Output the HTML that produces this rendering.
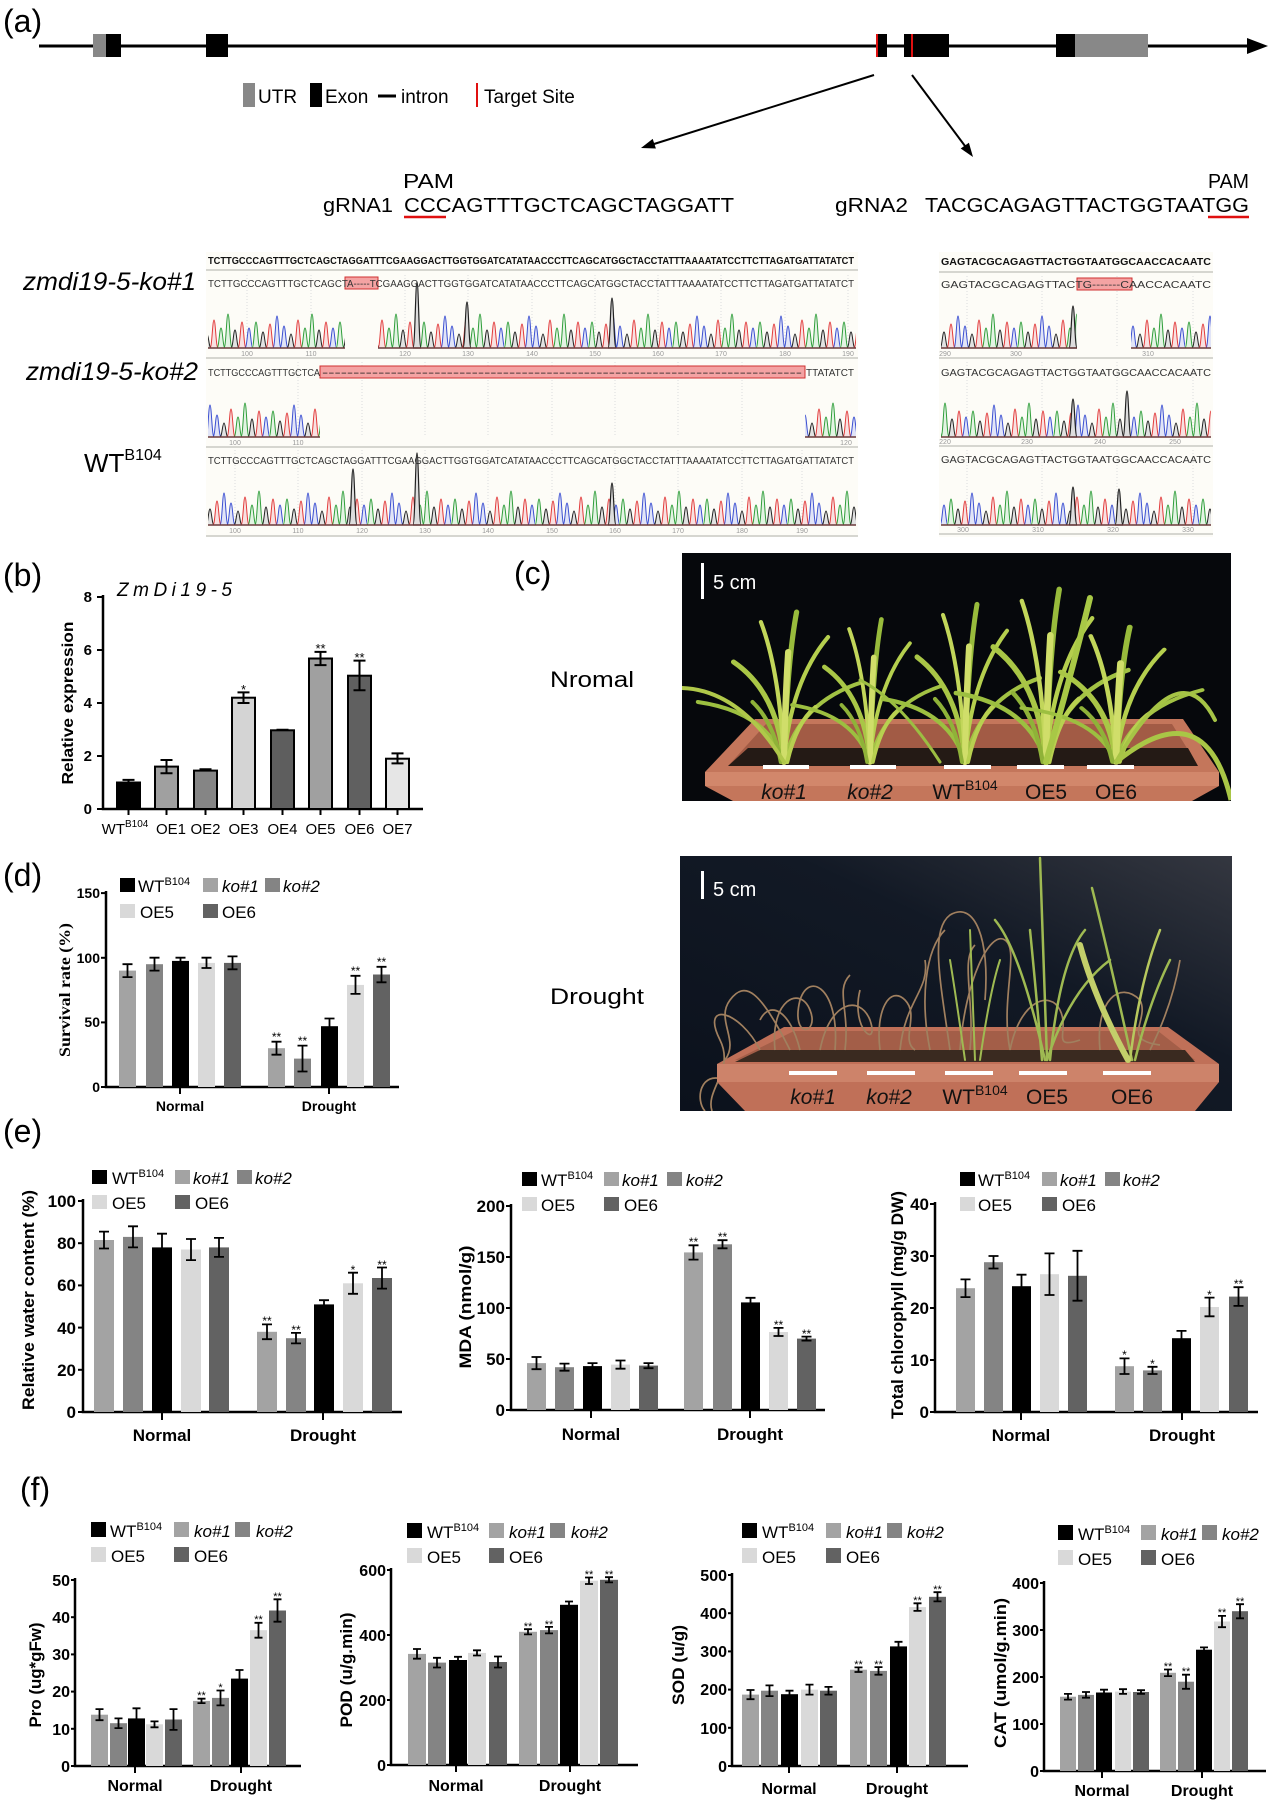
<!DOCTYPE html>
<html><head><meta charset="utf-8"><style>
html,body{margin:0;padding:0;background:#fff;}
svg{display:block;}
text{font-family:"Liberation Sans",Arial,sans-serif;}
</style></head><body>
<svg width="1269" height="1801" viewBox="0 0 1269 1801" xmlns="http://www.w3.org/2000/svg" xmlns:xlink="http://www.w3.org/1999/xlink">
<defs>
<pattern id="pk" width="84" height="60" patternUnits="userSpaceOnUse">
<g stroke-width="1">
<path d="M0,58 C2,58 2.5,32 4,32 C5.5,32 6,58 8,58Z" fill="#e3f3e3" stroke="#2f9e3a"/>
<path d="M7,58 C9,58 9.5,42 11,42 C12.5,42 13,58 15,58Z" fill="#e2e2e2" stroke="#222"/>
<path d="M14,58 C16,58 16.5,34 18,34 C19.5,34 20,58 22,58Z" fill="#f8e1e1" stroke="#e23b3b"/>
<path d="M21,58 C23,58 23.5,26 25,26 C26.5,26 27,58 29,58Z" fill="#e1e4f7" stroke="#3b4fd1"/>
<path d="M28,58 C30,58 30.5,36 32,36 C33.5,36 34,58 36,58Z" fill="#e1e4f7" stroke="#3b4fd1"/>
<path d="M35,58 C37,58 37.5,44 39,44 C40.5,44 41,58 43,58Z" fill="#e2e2e2" stroke="#222"/>
<path d="M42,58 C44,58 44.5,30 46,30 C47.5,30 48,58 50,58Z" fill="#f8e1e1" stroke="#e23b3b"/>
<path d="M49,58 C51,58 51.5,38 53,38 C54.5,38 55,58 57,58Z" fill="#e3f3e3" stroke="#2f9e3a"/>
<path d="M56,58 C58,58 58.5,24 60,24 C61.5,24 62,58 64,58Z" fill="#e3f3e3" stroke="#2f9e3a"/>
<path d="M63,58 C65,58 65.5,40 67,40 C68.5,40 69,58 71,58Z" fill="#e2e2e2" stroke="#222"/>
<path d="M70,58 C72,58 72.5,32 74,32 C75.5,32 76,58 78,58Z" fill="#f8e1e1" stroke="#e23b3b"/>
<path d="M77,58 C79,58 79.5,38 81,38 C82.5,38 83,58 85,58Z" fill="#e1e4f7" stroke="#3b4fd1"/>
</g>
</pattern>
<g id="pl" fill="none" stroke-linecap="round">
<path d="M0,0 Q-6,-70 -48,-100" stroke="#a9c646" stroke-width="5"/>
<path d="M0,0 Q-4,-90 -22,-140" stroke="#c2d65a" stroke-width="4"/>
<path d="M0,0 Q3,-100 12,-150" stroke="#98bb3c" stroke-width="5"/>
<path d="M0,0 Q6,-80 42,-125" stroke="#b5cf4e" stroke-width="4"/>
<path d="M0,0 Q14,-60 75,-80" stroke="#a2c244" stroke-width="4"/>
<path d="M0,0 Q-16,-50 -82,-60" stroke="#9cbf40" stroke-width="4"/>
<path d="M0,0 Q1,-60 4,-110" stroke="#d0de6a" stroke-width="6"/>
<path d="M-3,0 Q-10,-40 -30,-60" stroke="#8fb238" stroke-width="4"/>
<path d="M3,0 Q12,-40 30,-55" stroke="#b8d050" stroke-width="4"/>
</g>
<clipPath id="c1"><rect x="682" y="553" width="549" height="248"/></clipPath>
<clipPath id="c2"><rect x="680" y="856" width="552" height="255"/></clipPath>
<linearGradient id="g2" x1="0" y1="1" x2="1" y2="0">
<stop offset="0" stop-color="#0b111c"/><stop offset="0.6" stop-color="#121925"/><stop offset="1" stop-color="#343740"/>
</linearGradient>
</defs>

<!-- ============ (a) ============ -->
<text x="3" y="32" font-size="32">(a)</text>
<line x1="39" y1="46" x2="1252" y2="46" stroke="#000" stroke-width="3"/>
<polygon points="1247,38 1268,46 1247,54" fill="#000"/>
<rect x="93" y="34" width="13" height="23" fill="#888"/>
<rect x="106" y="34" width="15" height="23" fill="#000"/>
<rect x="206" y="34" width="22" height="23" fill="#000"/>
<rect x="876" y="34" width="11" height="23" fill="#000"/>
<line x1="877" y1="34" x2="877" y2="57" stroke="#e01010" stroke-width="2"/>
<rect x="904" y="34" width="45" height="23" fill="#000"/>
<line x1="912" y1="34" x2="912" y2="57" stroke="#e01010" stroke-width="2"/>
<rect x="1056" y="34" width="19" height="23" fill="#000"/>
<rect x="1075" y="34" width="73" height="23" fill="#888"/>

<rect x="243" y="83" width="12" height="24" fill="#888"/>
<text x="258" y="103" font-size="19">UTR</text>
<rect x="310" y="83" width="12" height="24" fill="#000"/>
<text x="325" y="103" font-size="19">Exon</text>
<line x1="378" y1="96" x2="396" y2="96" stroke="#000" stroke-width="3"/>
<text x="401" y="103" font-size="19">intron</text>
<line x1="477" y1="83" x2="477" y2="107" stroke="#e01010" stroke-width="2"/>
<text x="484" y="103" font-size="19">Target Site</text>

<line x1="874" y1="75" x2="654" y2="144" stroke="#000" stroke-width="2"/>
<polygon points="641,148 655.9,148.5 652.7,138.9" fill="#000"/>
<line x1="912" y1="75" x2="965" y2="146" stroke="#000" stroke-width="2"/>
<polygon points="973,157 968.9,142.7 960.7,148.5" fill="#000"/>

<text x="403" y="188" font-size="20" textLength="51" lengthAdjust="spacingAndGlyphs">PAM</text>
<text x="323" y="212" font-size="20" textLength="70" lengthAdjust="spacingAndGlyphs">gRNA1</text>
<text x="404" y="212" font-size="20" textLength="330" lengthAdjust="spacingAndGlyphs">CCCAGTTTGCTCAGCTAGGATT</text>
<line x1="404" y1="217" x2="446" y2="217" stroke="#e01010" stroke-width="2.5"/>
<text x="1208" y="188" font-size="20" textLength="41" lengthAdjust="spacingAndGlyphs">PAM</text>
<text x="835" y="212" font-size="20" textLength="73" lengthAdjust="spacingAndGlyphs">gRNA2</text>
<text x="925" y="212" font-size="20" textLength="324" lengthAdjust="spacingAndGlyphs">TACGCAGAGTTACTGGTAATGG</text>
<line x1="1208" y1="217" x2="1249" y2="217" stroke="#e01010" stroke-width="2.5"/>

<!-- chromatogram left -->
<rect x="206" y="252" width="652" height="285" fill="#fdfcf7"/>
<rect x="939" y="252" width="274" height="285" fill="#fdfcf7"/>
<g stroke="#d6d6d0" stroke-width="2">
<line x1="206" y1="270" x2="858" y2="270"/><line x1="206" y1="358" x2="858" y2="358"/><line x1="206" y1="447" x2="858" y2="447"/><line x1="206" y1="536" x2="858" y2="536"/>
<line x1="939" y1="272" x2="1213" y2="272"/><line x1="939" y1="358" x2="1213" y2="358"/><line x1="939" y1="446" x2="1213" y2="446"/><line x1="939" y1="534" x2="1213" y2="534"/>
</g>
<g stroke="#dcdcdc" stroke-width="1" stroke-dasharray="1,2">
<line x1="247" y1="275" x2="247" y2="348"/><line x1="311" y1="275" x2="311" y2="348"/><line x1="405" y1="275" x2="405" y2="348"/><line x1="468" y1="275" x2="468" y2="348"/><line x1="532" y1="275" x2="532" y2="348"/><line x1="595" y1="275" x2="595" y2="348"/><line x1="658" y1="275" x2="658" y2="348"/><line x1="721" y1="275" x2="721" y2="348"/><line x1="785" y1="275" x2="785" y2="348"/><line x1="848" y1="275" x2="848" y2="348"/>
<line x1="298" y1="362" x2="298" y2="437"/><line x1="362" y1="362" x2="362" y2="437"/><line x1="425" y1="362" x2="425" y2="437"/><line x1="488" y1="362" x2="488" y2="437"/><line x1="552" y1="362" x2="552" y2="437"/><line x1="615" y1="362" x2="615" y2="437"/><line x1="678" y1="362" x2="678" y2="437"/><line x1="742" y1="362" x2="742" y2="437"/>
<line x1="235" y1="450" x2="235" y2="525"/><line x1="298" y1="450" x2="298" y2="525"/><line x1="362" y1="450" x2="362" y2="525"/><line x1="425" y1="450" x2="425" y2="525"/><line x1="488" y1="450" x2="488" y2="525"/><line x1="552" y1="450" x2="552" y2="525"/><line x1="615" y1="450" x2="615" y2="525"/><line x1="678" y1="450" x2="678" y2="525"/><line x1="742" y1="450" x2="742" y2="525"/><line x1="802" y1="450" x2="802" y2="525"/>
<line x1="967" y1="276" x2="967" y2="348"/><line x1="1042" y1="276" x2="1042" y2="348"/><line x1="1117" y1="276" x2="1117" y2="348"/><line x1="1193" y1="276" x2="1193" y2="348"/>
<line x1="967" y1="362" x2="967" y2="437"/><line x1="1042" y1="362" x2="1042" y2="437"/><line x1="1117" y1="362" x2="1117" y2="437"/><line x1="1193" y1="362" x2="1193" y2="437"/>
<line x1="967" y1="450" x2="967" y2="525"/><line x1="1042" y1="450" x2="1042" y2="525"/><line x1="1117" y1="450" x2="1117" y2="525"/><line x1="1193" y1="450" x2="1193" y2="525"/>
</g>

<g transform="translate(0,290)"><rect x="208" y="0" width="137" height="58" fill="url(#pk)"/><rect x="378" y="0" width="478" height="58" fill="url(#pk)"/></g>
<g transform="translate(17,379)"><rect x="191" y="0" width="112" height="58" fill="url(#pk)"/><rect x="788" y="0" width="51" height="58" fill="url(#pk)"/></g>
<g transform="translate(31,467)"><rect x="177" y="0" width="648" height="58" fill="url(#pk)"/></g>
<g transform="translate(9,290)"><rect x="932" y="0" width="136" height="58" fill="url(#pk)"/><rect x="1122" y="0" width="80" height="58" fill="url(#pk)"/></g>
<g transform="translate(45,379)"><rect x="896" y="0" width="270" height="58" fill="url(#pk)"/></g>
<g transform="translate(23,467)"><rect x="918" y="0" width="270" height="58" fill="url(#pk)"/></g>

<g fill="#ddd" stroke="#222" stroke-width="1.2">
<path d="M413,348 C415,348 415.5,282 417,282 C418.5,282 419,348 421,348Z"/>
<path d="M608,348 C610,348 610.5,298 612,298 C613.5,298 614,348 616,348Z"/>
<path d="M463,348 C465,348 465.5,302 467,302 C468.5,302 469,348 471,348Z"/>
<path d="M413,525 C415,525 415.5,453 417,453 C418.5,453 419,525 421,525Z"/>
<path d="M349,525 C351,525 351.5,469 353,469 C354.5,469 355,525 357,525Z"/>
<path d="M608,525 C610,525 610.5,483 612,483 C613.5,483 614,525 616,525Z"/>
<path d="M1069,348 C1071,348 1071.5,306 1073,306 C1074.5,306 1075,348 1077,348Z"/>
<path d="M1069,437 C1071,437 1071.5,399 1073,399 C1074.5,399 1075,437 1077,437Z"/>
<path d="M1123,437 C1125,437 1125.5,391 1127,391 C1128.5,391 1129,437 1131,437Z"/>
<path d="M1069,525 C1071,525 1071.5,487 1073,487 C1074.5,487 1075,525 1077,525Z"/>
<path d="M1115,525 C1117,525 1117.5,489 1119,489 C1120.5,489 1121,525 1123,525Z"/>
</g>
<g stroke="#6a3a3a" stroke-width="1.5">
<line x1="208" y1="348" x2="345" y2="348"/><line x1="378" y1="348" x2="856" y2="348"/>
<line x1="208" y1="437" x2="320" y2="437"/><line x1="805" y1="437" x2="856" y2="437"/>
<line x1="208" y1="525" x2="856" y2="525"/>
<line x1="941" y1="348" x2="1077" y2="348"/><line x1="1131" y1="348" x2="1211" y2="348"/>
<line x1="941" y1="437" x2="1211" y2="437"/>
<line x1="941" y1="525" x2="1211" y2="525"/>
</g>
<g font-size="7" fill="#999" text-anchor="middle">
<text x="247" y="356">100</text><text x="311" y="356">110</text><text x="405" y="356">120</text><text x="468" y="356">130</text><text x="532" y="356">140</text><text x="595" y="356">150</text><text x="658" y="356">160</text><text x="721" y="356">170</text><text x="785" y="356">180</text><text x="848" y="356">190</text>
<text x="235" y="445">100</text><text x="298" y="445">110</text><text x="846" y="445">120</text>
<text x="235" y="533">100</text><text x="298" y="533">110</text><text x="362" y="533">120</text><text x="425" y="533">130</text><text x="488" y="533">140</text><text x="552" y="533">150</text><text x="615" y="533">160</text><text x="678" y="533">170</text><text x="742" y="533">180</text><text x="802" y="533">190</text>
<text x="945" y="356">290</text><text x="1016" y="356">300</text><text x="1148" y="356">310</text>
<text x="945" y="444">220</text><text x="1027" y="444">230</text><text x="1100" y="444">240</text><text x="1175" y="444">250</text>
<text x="963" y="532">300</text><text x="1038" y="532">310</text><text x="1113" y="532">320</text><text x="1188" y="532">330</text>
</g>

<rect x="345" y="277" width="33" height="12" fill="#f4a3a3" stroke="#d03030" stroke-width="1"/>
<rect x="320" y="366" width="485" height="12" fill="#f4a3a3" stroke="#d03030" stroke-width="1"/>
<rect x="1077" y="278" width="55" height="12" fill="#f4a3a3" stroke="#d03030" stroke-width="1"/>

<g font-size="10" fill="#333">
<text x="208" y="264" font-weight="bold" fill="#111" textLength="646" lengthAdjust="spacingAndGlyphs">TCTTGCCCAGTTTGCTCAGCTAGGATTTCGAAGGACTTGGTGGATCATATAACCCTTCAGCATGGCTACCTATTTAAAATATCCTTCTTAGATGATTATATCT</text>
<text x="208" y="287" textLength="646" lengthAdjust="spacingAndGlyphs">TCTTGCCCAGTTTGCTCAGCTA-----TCGAAGGACTTGGTGGATCATATAACCCTTCAGCATGGCTACCTATTTAAAATATCCTTCTTAGATGATTATATCT</text>
<text x="208" y="376" textLength="112" lengthAdjust="spacingAndGlyphs">TCTTGCCCAGTTTGCTCA</text>
<text x="322" y="376" textLength="480" lengthAdjust="spacingAndGlyphs" fill="#222">-----------------------------------------------------------------------------</text>
<text x="806" y="376" textLength="48" lengthAdjust="spacingAndGlyphs">TTATATCT</text>
<text x="208" y="464" textLength="646" lengthAdjust="spacingAndGlyphs">TCTTGCCCAGTTTGCTCAGCTAGGATTTCGAAGGACTTGGTGGATCATATAACCCTTCAGCATGGCTACCTATTTAAAATATCCTTCTTAGATGATTATATCT</text>
<text x="941" y="265" font-weight="bold" fill="#111" textLength="270" lengthAdjust="spacingAndGlyphs">GAGTACGCAGAGTTACTGGTAATGGCAACCACAATC</text>
<text x="941" y="288" textLength="270" lengthAdjust="spacingAndGlyphs">GAGTACGCAGAGTTACTG-------CAACCACAATC</text>
<text x="941" y="376" textLength="270" lengthAdjust="spacingAndGlyphs">GAGTACGCAGAGTTACTGGTAATGGCAACCACAATC</text>
<text x="941" y="463" textLength="270" lengthAdjust="spacingAndGlyphs">GAGTACGCAGAGTTACTGGTAATGGCAACCACAATC</text>
</g>

<text x="23" y="290" font-size="25" font-style="italic" textLength="173" lengthAdjust="spacingAndGlyphs">zmdi19-5-ko#1</text>
<text x="26" y="380" font-size="25" font-style="italic" textLength="172" lengthAdjust="spacingAndGlyphs">zmdi19-5-ko#2</text>
<text x="84" y="472" font-size="26">WT<tspan font-size="16" dy="-12">B104</tspan></text>

<!-- ============ (b) ============ -->
<text x="3" y="586" font-size="32">(b)</text>
<text x="117" y="596" font-size="19" font-style="italic" textLength="115" lengthAdjust="spacing">ZmDi19-5</text>
<g fill="none" stroke="#000" stroke-width="2.5">
<path d="M103,595 V809 H423"/>
</g>
<g stroke="#000" stroke-width="2">
<line x1="97" y1="597" x2="103" y2="597"/><line x1="97" y1="650" x2="103" y2="650"/><line x1="97" y1="703" x2="103" y2="703"/><line x1="97" y1="756" x2="103" y2="756"/><line x1="97" y1="809" x2="103" y2="809"/>
<line x1="128.5" y1="809" x2="128.5" y2="815"/><line x1="166.5" y1="809" x2="166.5" y2="815"/><line x1="205.5" y1="809" x2="205.5" y2="815"/><line x1="243.5" y1="809" x2="243.5" y2="815"/><line x1="282.5" y1="809" x2="282.5" y2="815"/><line x1="320.5" y1="809" x2="320.5" y2="815"/><line x1="359.5" y1="809" x2="359.5" y2="815"/><line x1="397.5" y1="809" x2="397.5" y2="815"/>
</g>
<g font-size="15" font-weight="bold" text-anchor="end">
<text x="92" y="602">8</text><text x="92" y="655">6</text><text x="92" y="708">4</text><text x="92" y="761">2</text><text x="92" y="814">0</text>
</g>
<g stroke="#000" stroke-width="2">
<rect x="117" y="782.5" width="23" height="26.5" fill="#000"/>
<rect x="155" y="766.6" width="23" height="42.4" fill="#a0a0a0"/>
<rect x="194" y="770.6" width="23" height="38.4" fill="#858585"/>
<rect x="232" y="697.7" width="23" height="111.3" fill="#d4d4d4"/>
<rect x="271" y="730.3" width="23" height="78.7" fill="#5e5e5e"/>
<rect x="309" y="658.5" width="23" height="150.5" fill="#a0a0a0"/>
<rect x="348" y="675.7" width="23" height="133.3" fill="#606060"/>
<rect x="386" y="758.7" width="23" height="50.3" fill="#e6e6e6"/>
</g>
<path d="M128.5 785.2V779.9M122.5 779.9h12M122.5 785.2h12M166.5 773.2V760M160.5 760h12M160.5 773.2h12M205.5 771.4V769.3M199.5 769.3h12M243.5 703V692.4M237.5 692.4h12M237.5 703h12M282.5 731V729.7M276.5 729.7h12M320.5 665.1V651.9M314.5 651.9h12M314.5 665.1h12M359.5 690.3V660.6M353.5 660.6h12M353.5 690.3h12M397.5 763.4V753.4M391.5 753.4h12M391.5 763.4h12" stroke="#000" stroke-width="2" fill="none"/>
<g font-size="13" text-anchor="middle">
<text x="243.5" y="694">*</text><text x="320.5" y="653">**</text><text x="359.5" y="662">**</text>
</g>
<g font-size="15" text-anchor="middle">
<text x="125" y="834">WT<tspan font-size="10" dy="-7">B104</tspan></text>
<text x="167" y="834" dx="4">OE1</text><text x="205.5" y="834">OE2</text><text x="243.5" y="834">OE3</text><text x="282.5" y="834">OE4</text><text x="320.5" y="834">OE5</text><text x="359.5" y="834">OE6</text><text x="397.5" y="834">OE7</text>
</g>
<text transform="translate(73,703) rotate(-90)" text-anchor="middle" font-size="16" font-weight="bold" textLength="163" lengthAdjust="spacingAndGlyphs">Relative expression</text>

<!-- ============ (c) photos ============ -->
<text x="514" y="584" font-size="32">(c)</text>
<text x="550" y="687" font-size="22" textLength="84" lengthAdjust="spacingAndGlyphs">Nromal</text>
<text x="550" y="1004" font-size="22" textLength="94" lengthAdjust="spacingAndGlyphs">Drought</text>

<g clip-path="url(#c1)">
<rect x="682" y="553" width="549" height="248" fill="#06080c"/>
<polygon points="755,719 1183,719 1219,772 1219,786 1192,801 733,801 705,786 705,772" fill="#c4765b"/>
<polygon points="766,724 1172,724 1198,766 728,766" fill="#a25b45"/>
<polygon points="748,748 1188,748 1198,766 728,766" fill="#241a15"/>
<use href="#pl" xlink:href="#pl" transform="translate(784,762) scale(1.05,1.0)"/>
<use href="#pl" xlink:href="#pl" transform="translate(870,762) scale(0.95,0.95)"/>
<use href="#pl" xlink:href="#pl" transform="translate(965,762) scale(1.0,1.05)"/>
<use href="#pl" xlink:href="#pl" transform="translate(1046,762) scale(1.1,1.15)"/>
<use href="#pl" xlink:href="#pl" transform="translate(1116,762) scale(1.15,0.9)"/>
<g fill="none" stroke-linecap="round">
<path d="M1046,762 Q1070,680 1090,598" stroke="#a8c846" stroke-width="6"/>
<path d="M784,762 Q740,690 682,688" stroke="#b0c84a" stroke-width="4"/>
<path d="M1116,762 Q1180,650 1215,720" stroke="#a6c446" stroke-width="4"/>
<path d="M940,762 Q900,700 860,680" stroke="#9cbe42" stroke-width="3"/>
</g>
<rect x="705" y="772" width="514" height="14" fill="#d2876b"/>
<path d="M1116,762 Q1205,690 1231,800" fill="none" stroke="#a9c646" stroke-width="5"/>
<g fill="#fff">
<rect x="763" y="765" width="46" height="4"/><rect x="850" y="765" width="46" height="4"/><rect x="944" y="765" width="47" height="4"/><rect x="1017" y="765" width="47" height="4"/><rect x="1087" y="765" width="47" height="4"/>
<rect x="701" y="563" width="3" height="36"/>
</g>
<text x="713" y="589" font-size="20" fill="#fff">5 cm</text>
<g font-size="21" text-anchor="middle" fill="#111">
<text x="784" y="799" font-style="italic">ko#1</text><text x="870" y="799" font-style="italic">ko#2</text>
<text x="965" y="799">WT<tspan font-size="14" dy="-9">B104</tspan></text>
<text x="1046" y="799">OE5</text><text x="1116" y="799">OE6</text>
</g>
</g>

<g clip-path="url(#c2)">
<rect x="680" y="856" width="552" height="255" fill="url(#g2)"/>
<polygon points="784,1027 1168,1027 1219,1064 1219,1082 1195,1111 745,1111 717,1082 717,1064" fill="#c07058"/>
<polygon points="794,1031 1158,1031 1195,1060 735,1060" fill="#a35e48"/>
<polygon points="760,1050 1185,1050 1195,1062 735,1062" fill="#3a2a20"/>
<g fill="none" stroke="#a1805f" stroke-width="1.7">
<path d="M760,1050 C740,1010 700,1000 720,1040 C735,1070 705,1090 712,1111"/>
<path d="M775,1050 C770,1000 800,985 810,1010 C820,1035 790,1040 800,1000 C810,970 840,990 835,1050"/>
<path d="M790,1050 C760,990 745,980 730,1000 C715,1020 740,1040 725,1060"/>
<path d="M820,1050 C830,1000 860,995 870,1020 C880,1050 850,1030 860,990"/>
<path d="M800,1050 C790,1010 770,1000 760,1020"/>
<path d="M880,1050 C875,1010 890,985 905,1000 C920,1015 900,1040 915,1050"/>
<path d="M900,1050 C905,1000 930,990 925,960"/>
<path d="M950,1050 C940,980 930,930 950,915 C975,900 990,940 985,1000"/>
<path d="M960,1050 C965,980 990,930 1005,940 C1020,950 1000,1000 1010,1050"/>
<path d="M930,1050 C920,1000 925,950 945,930"/>
<path d="M970,1050 C975,1000 960,960 975,945"/>
<path d="M1010,1050 C1020,1000 1050,990 1060,1010 C1070,1030 1050,1050 1080,1040"/>
<path d="M1100,1050 C1095,1000 1120,980 1140,1000 C1150,1020 1120,1040 1160,1045"/>
<path d="M1150,1050 C1165,1020 1175,990 1180,960"/>
<path d="M725,1080 C700,1070 695,1100 705,1111"/>
<path d="M845,1050 C850,1010 835,990 850,975"/>
</g>
<g fill="none" stroke-linecap="round" stroke="#9fba52" stroke-width="2.5">
<path d="M1047,1060 L1040,858"/>
<path d="M1045,1060 Q1020,950 995,920"/>
<path d="M1050,1060 Q1060,960 1085,930"/>
<path d="M1047,1060 Q1070,990 1110,960"/>
<path d="M1042,1060 Q1035,980 1030,930"/>
<path d="M1132,1060 Q1110,960 1092,888"/>
<path d="M1130,1060 Q1140,980 1160,930" stroke="#b7c85e"/>
<path d="M1135,1060 Q1150,1000 1170,960"/>
<path d="M1128,1060 Q1095,1000 1080,945" stroke="#c3cf6a" stroke-width="6"/>
<path d="M975,1060 L970,930" stroke-width="2"/>
<path d="M980,1060 Q990,990 1000,960" stroke-width="2"/>
<path d="M965,1060 Q955,990 950,960" stroke-width="2"/>
</g>
<rect x="717" y="1064" width="502" height="18" fill="#cd836a"/>
<g fill="#fff">
<rect x="789" y="1071" width="48" height="4"/><rect x="867" y="1071" width="48" height="4"/><rect x="945" y="1071" width="48" height="4"/><rect x="1019" y="1071" width="48" height="4"/><rect x="1103" y="1071" width="48" height="4"/>
<rect x="701" y="871" width="3" height="28"/>
</g>
<text x="713" y="896" font-size="20" fill="#fff">5 cm</text>
<g font-size="21" text-anchor="middle" fill="#111">
<text x="813" y="1104" font-style="italic">ko#1</text><text x="889" y="1104" font-style="italic">ko#2</text>
<text x="975" y="1104">WT<tspan font-size="14" dy="-9">B104</tspan></text>
<text x="1047" y="1104">OE5</text><text x="1132" y="1104">OE6</text>
</g>
</g>

<!-- ============ (d) ============ -->
<text x="3" y="886" font-size="32">(d)</text>
<g font-size="17">
<rect x="120" y="878" width="15" height="14" fill="#000"/><text x="138" y="892">WT<tspan font-size="11" dy="-7">B104</tspan></text>
<rect x="203" y="878" width="15" height="14" fill="#a3a3a3"/><text x="222" y="892" font-style="italic">ko#1</text>
<rect x="265" y="878" width="15" height="14" fill="#848484"/><text x="283" y="892" font-style="italic">ko#2</text>
<rect x="120" y="904" width="15" height="14" fill="#d9d9d9"/><text x="140" y="918">OE5</text>
<rect x="203" y="904" width="15" height="14" fill="#626262"/><text x="222" y="918">OE6</text>
</g>
<path d="M106,891 V1087 H399" fill="none" stroke="#000" stroke-width="2.5"/>
<g stroke="#000" stroke-width="2">
<line x1="101" y1="1087" x2="106" y2="1087"/><line x1="101" y1="1022.4" x2="106" y2="1022.4"/><line x1="101" y1="957.8" x2="106" y2="957.8"/><line x1="101" y1="893.1" x2="106" y2="893.1"/>
<line x1="180" y1="1087" x2="180" y2="1094"/><line x1="329" y1="1087" x2="329" y2="1094"/>
</g>
<g font-size="14" font-weight="bold" text-anchor="end">
<text x="100" y="1092">0</text><text x="100" y="1027">50</text><text x="100" y="963">100</text><text x="100" y="898">150</text>
</g>
<rect x="119" y="970.6" width="17" height="116.4" fill="#a3a3a3"/>
<rect x="146" y="964.2" width="17" height="122.8" fill="#848484"/>
<rect x="172" y="960.9" width="17" height="126.1" fill="#000"/>
<rect x="198" y="962.9" width="17" height="124.1" fill="#d9d9d9"/>
<rect x="224" y="962.9" width="17" height="124.1" fill="#626262"/>
<rect x="268" y="1048.2" width="17" height="38.8" fill="#a3a3a3"/>
<rect x="294" y="1058.6" width="17" height="28.4" fill="#848484"/>
<rect x="321" y="1026.2" width="17" height="60.8" fill="#000"/>
<rect x="347" y="984.9" width="17" height="102.1" fill="#d9d9d9"/>
<rect x="373" y="974.5" width="17" height="112.5" fill="#626262"/>
<path d="M127.5 977.1V964.2M122.5 964.2h10M122.5 977.1h10M154.5 970.6V957.7M149.5 957.7h10M149.5 970.6h10M180.5 964.2V957.7M175.5 957.7h10M175.5 964.2h10M206.5 968V957.7M201.5 957.7h10M201.5 968h10M232.5 969.3V956.4M227.5 956.4h10M227.5 969.3h10M276.5 1054.7V1041.7M271.5 1041.7h10M271.5 1054.7h10M302.5 1071.5V1045.6M297.5 1045.6h10M297.5 1071.5h10M329.5 1034V1018.5M324.5 1018.5h10M324.5 1034h10M355.5 993.9V975.8M350.5 975.8h10M350.5 993.9h10M381.5 982.3V966.8M376.5 966.8h10M376.5 982.3h10" stroke="#000" stroke-width="1.8" fill="none"/>
<g font-size="12" text-anchor="middle">
<text x="276.5" y="1041">**</text><text x="302.5" y="1045">**</text><text x="355.5" y="975">**</text><text x="381.5" y="966">**</text>
</g>
<g font-size="14" font-weight="bold" text-anchor="middle">
<text x="180" y="1111">Normal</text><text x="329" y="1111">Drought</text>
</g>
<text transform="translate(70,990) rotate(-90)" text-anchor="middle" font-size="16" font-weight="bold" style="font-family:'Liberation Serif',serif" textLength="134" lengthAdjust="spacingAndGlyphs">Survival rate (%)</text>

<!-- ============ (e) ============ -->
<text x="3" y="1142" font-size="32">(e)</text>

<!-- e1 -->
<g font-size="17">
<rect x="92" y="1170" width="15" height="14" fill="#000"/><text x="112" y="1184">WT<tspan font-size="11" dy="-7">B104</tspan></text>
<rect x="175" y="1170" width="15" height="14" fill="#a3a3a3"/><text x="193" y="1184" font-style="italic">ko#1</text>
<rect x="237" y="1170" width="15" height="14" fill="#848484"/><text x="255" y="1184" font-style="italic">ko#2</text>
<rect x="92" y="1195" width="15" height="14" fill="#d9d9d9"/><text x="112" y="1209">OE5</text>
<rect x="175" y="1195" width="15" height="14" fill="#626262"/><text x="195" y="1209">OE6</text>
</g>
<path d="M83,1199 V1412 H402" fill="none" stroke="#000" stroke-width="2.5"/>
<g stroke="#000" stroke-width="2">
<line x1="78" y1="1412" x2="83" y2="1412"/><line x1="78" y1="1369.8" x2="83" y2="1369.8"/><line x1="78" y1="1327.6" x2="83" y2="1327.6"/><line x1="78" y1="1285.4" x2="83" y2="1285.4"/><line x1="78" y1="1243.2" x2="83" y2="1243.2"/><line x1="78" y1="1201" x2="83" y2="1201"/>
<line x1="162" y1="1412" x2="162" y2="1420"/><line x1="323" y1="1412" x2="323" y2="1420"/>
</g>
<g font-size="17" font-weight="bold" text-anchor="end">
<text x="76" y="1418">0</text><text x="76" y="1376">20</text><text x="76" y="1334">40</text><text x="76" y="1291">60</text><text x="76" y="1249">80</text><text x="76" y="1207">100</text>
</g>
<rect x="94" y="1240" width="20" height="172" fill="#a3a3a3"/>
<rect x="123" y="1236.9" width="20" height="175.1" fill="#848484"/>
<rect x="152" y="1247.4" width="20" height="164.6" fill="#000"/>
<rect x="181" y="1249.5" width="20" height="162.5" fill="#d9d9d9"/>
<rect x="209" y="1247.4" width="20" height="164.6" fill="#626262"/>
<rect x="257" y="1331.8" width="20" height="80.2" fill="#a3a3a3"/>
<rect x="286" y="1338.2" width="20" height="73.8" fill="#848484"/>
<rect x="314" y="1304.4" width="20" height="107.6" fill="#000"/>
<rect x="343" y="1283.3" width="20" height="128.7" fill="#d9d9d9"/>
<rect x="372" y="1278" width="20" height="134" fill="#626262"/>
<path d="M104 1248.5V1231.6M99 1231.6h10M99 1248.5h10M133 1247.4V1226.3M128 1226.3h10M128 1247.4h10M162 1261.1V1233.7M157 1233.7h10M157 1261.1h10M191 1260.1V1239M186 1239h10M186 1260.1h10M219 1256.9V1237.9M214 1237.9h10M214 1256.9h10M267 1339.2V1324.4M262 1324.4h10M262 1339.2h10M296 1343.4V1332.9M291 1332.9h10M291 1343.4h10M324 1308.6V1300.2M319 1300.2h10M319 1308.6h10M353 1293.8V1272.7M348 1272.7h10M348 1293.8h10M382 1288.6V1267.5M377 1267.5h10M377 1288.6h10" stroke="#000" stroke-width="1.8" fill="none"/>
<g font-size="12" text-anchor="middle">
<text x="267" y="1325">**</text><text x="296" y="1334">**</text><text x="353" y="1274">*</text><text x="382" y="1269">**</text>
</g>
<g font-size="17" font-weight="bold" text-anchor="middle">
<text x="162" y="1441">Normal</text><text x="323" y="1441">Drought</text>
</g>
<text transform="translate(34,1300) rotate(-90)" text-anchor="middle" font-size="17" font-weight="bold" textLength="220" lengthAdjust="spacingAndGlyphs">Relative water content (%)</text>

<!-- e2 -->
<g font-size="17">
<rect x="522" y="1172" width="15" height="14" fill="#000"/><text x="541" y="1186">WT<tspan font-size="11" dy="-7">B104</tspan></text>
<rect x="604" y="1172" width="15" height="14" fill="#a3a3a3"/><text x="622" y="1186" font-style="italic">ko#1</text>
<rect x="667" y="1172" width="15" height="14" fill="#848484"/><text x="686" y="1186" font-style="italic">ko#2</text>
<rect x="522" y="1197" width="15" height="14" fill="#d9d9d9"/><text x="541" y="1211">OE5</text>
<rect x="604" y="1197" width="15" height="14" fill="#626262"/><text x="624" y="1211">OE6</text>
</g>
<path d="M511,1204 V1410 H825" fill="none" stroke="#000" stroke-width="2.5"/>
<g stroke="#000" stroke-width="2">
<line x1="506" y1="1410" x2="511" y2="1410"/><line x1="506" y1="1359" x2="511" y2="1359"/><line x1="506" y1="1308" x2="511" y2="1308"/><line x1="506" y1="1257" x2="511" y2="1257"/><line x1="506" y1="1206" x2="511" y2="1206"/>
<line x1="591" y1="1410" x2="591" y2="1418"/><line x1="750" y1="1410" x2="750" y2="1418"/>
</g>
<g font-size="17" font-weight="bold" text-anchor="end">
<text x="505" y="1416">0</text><text x="505" y="1365">50</text><text x="505" y="1314">100</text><text x="505" y="1263">150</text><text x="505" y="1212">200</text>
</g>
<rect x="527" y="1363.1" width="19" height="46.9" fill="#a3a3a3"/>
<rect x="555" y="1367.2" width="19" height="42.8" fill="#848484"/>
<rect x="583" y="1366.1" width="19" height="43.9" fill="#000"/>
<rect x="611" y="1364.6" width="19" height="45.4" fill="#d9d9d9"/>
<rect x="639" y="1365.6" width="19" height="44.4" fill="#626262"/>
<rect x="684" y="1252.4" width="19" height="157.6" fill="#a3a3a3"/>
<rect x="713" y="1244.3" width="19" height="165.7" fill="#848484"/>
<rect x="741" y="1302.4" width="19" height="107.6" fill="#000"/>
<rect x="769" y="1332" width="19" height="78" fill="#d9d9d9"/>
<rect x="797" y="1338.6" width="19" height="71.4" fill="#626262"/>
<path d="M536.5 1369.2V1357M531.5 1357h10M531.5 1369.2h10M564.5 1370.7V1363.6M559.5 1363.6h10M559.5 1370.7h10M592.5 1369.2V1363.1M587.5 1363.1h10M587.5 1369.2h10M620.5 1368.7V1360.5M615.5 1360.5h10M615.5 1368.7h10M648.5 1368.2V1363.1M643.5 1363.1h10M643.5 1368.2h10M693.5 1259.6V1245.3M688.5 1245.3h10M688.5 1259.6h10M722.5 1248.3V1240.2M717.5 1240.2h10M717.5 1248.3h10M750.5 1307V1297.8M745.5 1297.8h10M745.5 1307h10M778.5 1336V1327.9M773.5 1327.9h10M773.5 1336h10M806.5 1340.6V1336.6M801.5 1336.6h10M801.5 1340.6h10" stroke="#000" stroke-width="1.8" fill="none"/>
<g font-size="12" text-anchor="middle">
<text x="693.5" y="1246">**</text><text x="722.5" y="1241">**</text><text x="778.5" y="1329">**</text><text x="806.5" y="1338">**</text>
</g>
<g font-size="17" font-weight="bold" text-anchor="middle">
<text x="591" y="1440">Normal</text><text x="750" y="1440">Drought</text>
</g>
<text transform="translate(471,1307) rotate(-90)" text-anchor="middle" font-size="17" font-weight="bold" textLength="123" lengthAdjust="spacingAndGlyphs">MDA (nmol/g)</text>

<!-- e3 -->
<g font-size="17">
<rect x="960" y="1172" width="15" height="14" fill="#000"/><text x="978" y="1186">WT<tspan font-size="11" dy="-7">B104</tspan></text>
<rect x="1042" y="1172" width="15" height="14" fill="#a3a3a3"/><text x="1060" y="1186" font-style="italic">ko#1</text>
<rect x="1105" y="1172" width="15" height="14" fill="#848484"/><text x="1123" y="1186" font-style="italic">ko#2</text>
<rect x="960" y="1197" width="15" height="14" fill="#d9d9d9"/><text x="978" y="1211">OE5</text>
<rect x="1042" y="1197" width="15" height="14" fill="#626262"/><text x="1062" y="1211">OE6</text>
</g>
<path d="M935,1202 V1412 H1258" fill="none" stroke="#000" stroke-width="2.5"/>
<g stroke="#000" stroke-width="2">
<line x1="930" y1="1412" x2="935" y2="1412"/><line x1="930" y1="1360" x2="935" y2="1360"/><line x1="930" y1="1308" x2="935" y2="1308"/><line x1="930" y1="1256" x2="935" y2="1256"/><line x1="930" y1="1204" x2="935" y2="1204"/>
<line x1="1021" y1="1412" x2="1021" y2="1420"/><line x1="1182" y1="1412" x2="1182" y2="1420"/>
</g>
<g font-size="17" font-weight="bold" text-anchor="end">
<text x="929" y="1418">0</text><text x="929" y="1366">10</text><text x="929" y="1314">20</text><text x="929" y="1262">30</text><text x="929" y="1210">40</text>
</g>
<rect x="956" y="1288.2" width="19" height="123.8" fill="#a3a3a3"/>
<rect x="984" y="1262.2" width="19" height="149.8" fill="#848484"/>
<rect x="1012" y="1286.2" width="19" height="125.8" fill="#000"/>
<rect x="1040" y="1274.2" width="19" height="137.8" fill="#d9d9d9"/>
<rect x="1068" y="1275.8" width="19" height="136.2" fill="#626262"/>
<rect x="1115" y="1366.2" width="19" height="45.8" fill="#a3a3a3"/>
<rect x="1143" y="1370.4" width="19" height="41.6" fill="#848484"/>
<rect x="1172" y="1338.2" width="19" height="73.8" fill="#000"/>
<rect x="1200" y="1307" width="19" height="105" fill="#d9d9d9"/>
<rect x="1229" y="1296.6" width="19" height="115.4" fill="#626262"/>
<path d="M965.5 1297.1V1279.4M960.5 1279.4h10M960.5 1297.1h10M993.5 1268.5V1256M988.5 1256h10M988.5 1268.5h10M1021.5 1297.6V1274.7M1016.5 1274.7h10M1016.5 1297.6h10M1049.5 1295V1253.4M1044.5 1253.4h10M1044.5 1295h10M1077.5 1300.7V1250.8M1072.5 1250.8h10M1072.5 1300.7h10M1124.5 1374V1358.4M1119.5 1358.4h10M1119.5 1374h10M1152.5 1374V1366.8M1147.5 1366.8h10M1147.5 1374h10M1181.5 1345.4V1330.9M1176.5 1330.9h10M1176.5 1345.4h10M1209.5 1316.3V1297.6M1204.5 1297.6h10M1204.5 1316.3h10M1238.5 1305.9V1287.2M1233.5 1287.2h10M1233.5 1305.9h10" stroke="#000" stroke-width="1.8" fill="none"/>
<g font-size="12" text-anchor="middle">
<text x="1124.5" y="1359">*</text><text x="1152.5" y="1368">*</text><text x="1209.5" y="1299">*</text><text x="1238.5" y="1288">**</text>
</g>
<g font-size="17" font-weight="bold" text-anchor="middle">
<text x="1021" y="1441">Normal</text><text x="1182" y="1441">Drought</text>
</g>
<text transform="translate(903,1305) rotate(-90)" text-anchor="middle" font-size="17" font-weight="bold" textLength="228" lengthAdjust="spacingAndGlyphs">Total chlorophyll (mg/g DW)</text>

<!-- ============ (f) ============ -->
<text x="20" y="1500" font-size="32">(f)</text>

<!-- f1 Pro -->
<g font-size="17">
<rect x="91" y="1522" width="15" height="15" fill="#000"/><text x="110" y="1537">WT<tspan font-size="11" dy="-7">B104</tspan></text>
<rect x="174" y="1522" width="15" height="15" fill="#a3a3a3"/><text x="194" y="1537" font-style="italic">ko#1</text>
<rect x="235" y="1522" width="15" height="15" fill="#848484"/><text x="256" y="1537" font-style="italic">ko#2</text>
<rect x="91" y="1547" width="15" height="15" fill="#d9d9d9"/><text x="111" y="1562">OE5</text>
<rect x="174" y="1547" width="15" height="15" fill="#626262"/><text x="194" y="1562">OE6</text>
</g>
<path d="M75,1578 V1766 H301" fill="none" stroke="#000" stroke-width="2.5"/>
<g stroke="#000" stroke-width="2">
<line x1="71" y1="1766" x2="75" y2="1766"/><line x1="71" y1="1728.8" x2="75" y2="1728.8"/><line x1="71" y1="1691.6" x2="75" y2="1691.6"/><line x1="71" y1="1654.4" x2="75" y2="1654.4"/><line x1="71" y1="1617.2" x2="75" y2="1617.2"/><line x1="71" y1="1580" x2="75" y2="1580"/>
<line x1="135" y1="1766" x2="135" y2="1773"/><line x1="241" y1="1766" x2="241" y2="1773"/>
</g>
<g font-size="16" font-weight="bold" text-anchor="end">
<text x="70" y="1772">0</text><text x="70" y="1735">10</text><text x="70" y="1697">20</text><text x="70" y="1660">30</text><text x="70" y="1623">40</text><text x="70" y="1586">50</text>
</g>
<rect x="91" y="1714.7" width="17" height="51.3" fill="#a3a3a3"/>
<rect x="110" y="1723.2" width="17" height="42.8" fill="#848484"/>
<rect x="128" y="1718.4" width="17" height="47.6" fill="#000"/>
<rect x="146" y="1724.3" width="17" height="41.7" fill="#d9d9d9"/>
<rect x="165" y="1719.5" width="17" height="46.5" fill="#626262"/>
<rect x="193" y="1700.9" width="17" height="65.1" fill="#a3a3a3"/>
<rect x="212" y="1697.9" width="17" height="68.1" fill="#848484"/>
<rect x="231" y="1678.6" width="17" height="87.4" fill="#000"/>
<rect x="250" y="1630.2" width="17" height="135.8" fill="#d9d9d9"/>
<rect x="269" y="1610.5" width="17" height="155.5" fill="#626262"/>
<path d="M99.5 1720.2V1709.1M95.5 1709.1h8M95.5 1720.2h8M118.5 1728.1V1718.4M114.5 1718.4h8M114.5 1728.1h8M136.5 1728.4V1708.3M132.5 1708.3h8M132.5 1728.4h8M154.5 1727.3V1721.4M150.5 1721.4h8M150.5 1727.3h8M173.5 1729.9V1709.1M169.5 1709.1h8M169.5 1729.9h8M201.5 1703.1V1698.7M197.5 1698.7h8M197.5 1703.1h8M220.5 1705.4V1690.5M216.5 1690.5h8M216.5 1705.4h8M239.5 1687.1V1670M235.5 1670h8M235.5 1687.1h8M258.5 1637.7V1622.8M254.5 1622.8h8M254.5 1637.7h8M277.5 1621.7V1599.3M273.5 1599.3h8M273.5 1621.7h8" stroke="#000" stroke-width="1.8" fill="none"/>
<g font-size="11" text-anchor="middle">
<text x="201.5" y="1699">**</text><text x="220.5" y="1691">*</text><text x="258.5" y="1623">**</text><text x="277.5" y="1600">**</text>
</g>
<g font-size="16" font-weight="bold" text-anchor="middle">
<text x="135" y="1791">Normal</text><text x="241" y="1791">Drought</text>
</g>
<text transform="translate(41,1675) rotate(-90)" text-anchor="middle" font-size="17" font-weight="bold" textLength="105" lengthAdjust="spacingAndGlyphs">Pro (ug*gFw)</text>

<!-- f2 POD -->
<g font-size="17">
<rect x="407" y="1523" width="15" height="15" fill="#000"/><text x="427" y="1538">WT<tspan font-size="11" dy="-7">B104</tspan></text>
<rect x="489" y="1523" width="15" height="15" fill="#a3a3a3"/><text x="509" y="1538" font-style="italic">ko#1</text>
<rect x="550" y="1523" width="15" height="15" fill="#848484"/><text x="571" y="1538" font-style="italic">ko#2</text>
<rect x="407" y="1548" width="15" height="15" fill="#d9d9d9"/><text x="427" y="1563">OE5</text>
<rect x="489" y="1548" width="15" height="15" fill="#626262"/><text x="509" y="1563">OE6</text>
</g>
<path d="M391,1568 V1765 H638" fill="none" stroke="#000" stroke-width="2.5"/>
<g stroke="#000" stroke-width="2">
<line x1="387" y1="1765" x2="391" y2="1765"/><line x1="387" y1="1700" x2="391" y2="1700"/><line x1="387" y1="1635" x2="391" y2="1635"/><line x1="387" y1="1570" x2="391" y2="1570"/>
<line x1="456" y1="1765" x2="456" y2="1772"/><line x1="570" y1="1765" x2="570" y2="1772"/>
</g>
<g font-size="16" font-weight="bold" text-anchor="end">
<text x="386" y="1771">0</text><text x="386" y="1706">200</text><text x="386" y="1641">400</text><text x="386" y="1576">600</text>
</g>
<rect x="408" y="1653.9" width="18" height="111.1" fill="#a3a3a3"/>
<rect x="428" y="1662.6" width="18" height="102.4" fill="#848484"/>
<rect x="449" y="1660" width="18" height="105" fill="#000"/>
<rect x="468" y="1652.9" width="18" height="112.1" fill="#d9d9d9"/>
<rect x="489" y="1662" width="18" height="103" fill="#626262"/>
<rect x="519" y="1631.8" width="18" height="133.2" fill="#a3a3a3"/>
<rect x="540" y="1630.1" width="18" height="134.9" fill="#848484"/>
<rect x="560" y="1604.8" width="18" height="160.2" fill="#000"/>
<rect x="580" y="1580.7" width="18" height="184.3" fill="#d9d9d9"/>
<rect x="600" y="1579.8" width="18" height="185.2" fill="#626262"/>
<path d="M417 1658.7V1649M413 1649h8M413 1658.7h8M437 1667.5V1657.8M433 1657.8h8M433 1667.5h8M458 1663.3V1656.8M454 1656.8h8M454 1663.3h8M477 1655.5V1650.3M473 1650.3h8M473 1655.5h8M498 1667.5V1656.5M494 1656.5h8M494 1667.5h8M528 1634.4V1629.2M524 1629.2h8M524 1634.4h8M549 1633.4V1626.9M545 1626.9h8M545 1633.4h8M569 1608V1601.5M565 1601.5h8M565 1608h8M589 1584V1577.5M585 1577.5h8M585 1584h8M609 1582.4V1577.2M605 1577.2h8M605 1582.4h8" stroke="#000" stroke-width="1.8" fill="none"/>
<g font-size="11" text-anchor="middle">
<text x="528" y="1630">**</text><text x="549" y="1628">**</text><text x="589" y="1578">**</text><text x="609" y="1578">**</text>
</g>
<g font-size="16" font-weight="bold" text-anchor="middle">
<text x="456" y="1791">Normal</text><text x="570" y="1791">Drought</text>
</g>
<text transform="translate(352,1670) rotate(-90)" text-anchor="middle" font-size="17" font-weight="bold" textLength="115" lengthAdjust="spacingAndGlyphs">POD (u/g.min)</text>

<!-- f3 SOD -->
<g font-size="17">
<rect x="742" y="1523" width="15" height="15" fill="#000"/><text x="762" y="1538">WT<tspan font-size="11" dy="-7">B104</tspan></text>
<rect x="826" y="1523" width="15" height="15" fill="#a3a3a3"/><text x="846" y="1538" font-style="italic">ko#1</text>
<rect x="887" y="1523" width="15" height="15" fill="#848484"/><text x="907" y="1538" font-style="italic">ko#2</text>
<rect x="742" y="1548" width="15" height="15" fill="#d9d9d9"/><text x="762" y="1563">OE5</text>
<rect x="826" y="1548" width="15" height="15" fill="#626262"/><text x="846" y="1563">OE6</text>
</g>
<path d="M732,1573 V1766 H968" fill="none" stroke="#000" stroke-width="2.5"/>
<g stroke="#000" stroke-width="2">
<line x1="728" y1="1766" x2="732" y2="1766"/><line x1="728" y1="1727.8" x2="732" y2="1727.8"/><line x1="728" y1="1689.6" x2="732" y2="1689.6"/><line x1="728" y1="1651.4" x2="732" y2="1651.4"/><line x1="728" y1="1613.2" x2="732" y2="1613.2"/><line x1="728" y1="1575" x2="732" y2="1575"/>
<line x1="789" y1="1766" x2="789" y2="1773"/><line x1="897" y1="1766" x2="897" y2="1773"/>
</g>
<g font-size="16" font-weight="bold" text-anchor="end">
<text x="727" y="1772">0</text><text x="727" y="1734">100</text><text x="727" y="1695">200</text><text x="727" y="1657">300</text><text x="727" y="1619">400</text><text x="727" y="1581">500</text>
</g>
<rect x="742" y="1694.6" width="17" height="71.4" fill="#a3a3a3"/>
<rect x="761" y="1690.7" width="17" height="75.3" fill="#848484"/>
<rect x="781" y="1694.2" width="17" height="71.8" fill="#000"/>
<rect x="801" y="1689.6" width="17" height="76.4" fill="#d9d9d9"/>
<rect x="820" y="1690.7" width="17" height="75.3" fill="#626262"/>
<rect x="850" y="1669.7" width="17" height="96.3" fill="#a3a3a3"/>
<rect x="870" y="1670.9" width="17" height="95.1" fill="#848484"/>
<rect x="890" y="1646.4" width="17" height="119.6" fill="#000"/>
<rect x="909" y="1607.1" width="17" height="158.9" fill="#d9d9d9"/>
<rect x="929" y="1596.8" width="17" height="169.2" fill="#626262"/>
<path d="M750.5 1699.2V1690M746.5 1690h8M746.5 1699.2h8M769.5 1696.1V1685.4M765.5 1685.4h8M765.5 1696.1h8M789.5 1697.6V1690.7M785.5 1690.7h8M785.5 1697.6h8M809.5 1694.6V1684.6M805.5 1684.6h8M805.5 1694.6h8M828.5 1694.6V1686.9M824.5 1686.9h8M824.5 1694.6h8M858.5 1672V1667.4M854.5 1667.4h8M854.5 1672h8M878.5 1674.7V1667.1M874.5 1667.1h8M874.5 1674.7h8M898.5 1651V1641.8M894.5 1641.8h8M894.5 1651h8M917.5 1610.9V1603.3M913.5 1603.3h8M913.5 1610.9h8M937.5 1601.4V1592.2M933.5 1592.2h8M933.5 1601.4h8" stroke="#000" stroke-width="1.8" fill="none"/>
<g font-size="11" text-anchor="middle">
<text x="858.5" y="1668">**</text><text x="878.5" y="1668">**</text><text x="917.5" y="1604">**</text><text x="937.5" y="1593">**</text>
</g>
<g font-size="16" font-weight="bold" text-anchor="middle">
<text x="789" y="1794">Normal</text><text x="897" y="1794">Drought</text>
</g>
<text transform="translate(684,1665) rotate(-90)" text-anchor="middle" font-size="17" font-weight="bold" textLength="80" lengthAdjust="spacingAndGlyphs">SOD (u/g)</text>

<!-- f4 CAT -->
<g font-size="17">
<rect x="1058" y="1525" width="15" height="15" fill="#000"/><text x="1078" y="1540">WT<tspan font-size="11" dy="-7">B104</tspan></text>
<rect x="1141" y="1525" width="15" height="15" fill="#a3a3a3"/><text x="1161" y="1540" font-style="italic">ko#1</text>
<rect x="1202" y="1525" width="15" height="15" fill="#848484"/><text x="1222" y="1540" font-style="italic">ko#2</text>
<rect x="1058" y="1550" width="15" height="15" fill="#d9d9d9"/><text x="1078" y="1565">OE5</text>
<rect x="1141" y="1550" width="15" height="15" fill="#626262"/><text x="1161" y="1565">OE6</text>
</g>
<path d="M1044,1581 V1771 H1266" fill="none" stroke="#000" stroke-width="2.5"/>
<g stroke="#000" stroke-width="2">
<line x1="1040" y1="1771" x2="1044" y2="1771"/><line x1="1040" y1="1724" x2="1044" y2="1724"/><line x1="1040" y1="1677" x2="1044" y2="1677"/><line x1="1040" y1="1630" x2="1044" y2="1630"/><line x1="1040" y1="1583" x2="1044" y2="1583"/>
<line x1="1102" y1="1771" x2="1102" y2="1778"/><line x1="1202" y1="1771" x2="1202" y2="1778"/>
</g>
<g font-size="16" font-weight="bold" text-anchor="end">
<text x="1039" y="1777">0</text><text x="1039" y="1730">100</text><text x="1039" y="1683">200</text><text x="1039" y="1636">300</text><text x="1039" y="1589">400</text>
</g>
<rect x="1060" y="1696.7" width="16" height="74.3" fill="#a3a3a3"/>
<rect x="1078" y="1694.9" width="16" height="76.1" fill="#848484"/>
<rect x="1096" y="1692.5" width="16" height="78.5" fill="#000"/>
<rect x="1115" y="1691.6" width="16" height="79.4" fill="#d9d9d9"/>
<rect x="1133" y="1692" width="16" height="79" fill="#626262"/>
<rect x="1160" y="1672.8" width="16" height="98.2" fill="#a3a3a3"/>
<rect x="1178" y="1681.7" width="16" height="89.3" fill="#848484"/>
<rect x="1196" y="1649.7" width="16" height="121.3" fill="#000"/>
<rect x="1214" y="1621.5" width="16" height="149.5" fill="#d9d9d9"/>
<rect x="1232" y="1611.2" width="16" height="159.8" fill="#626262"/>
<path d="M1068 1699.6V1693.9M1064 1693.9h8M1064 1699.6h8M1086 1697.7V1692M1082 1692h8M1082 1697.7h8M1104 1695.3V1689.7M1100 1689.7h8M1100 1695.3h8M1123 1693.9V1689.2M1119 1689.2h8M1119 1693.9h8M1141 1693.9V1690.2M1137 1690.2h8M1137 1693.9h8M1168 1676.1V1669.5M1164 1669.5h8M1164 1676.1h8M1186 1688.8V1674.7M1182 1674.7h8M1182 1688.8h8M1204 1652.1V1647.4M1200 1647.4h8M1200 1652.1h8M1222 1627.2V1615.9M1218 1615.9h8M1218 1627.2h8M1240 1618.3V1604.2M1236 1604.2h8M1236 1618.3h8" stroke="#000" stroke-width="1.8" fill="none"/>
<g font-size="11" text-anchor="middle">
<text x="1168" y="1670">**</text><text x="1186" y="1675">**</text><text x="1222" y="1616">**</text><text x="1240" y="1605">**</text>
</g>
<g font-size="16" font-weight="bold" text-anchor="middle">
<text x="1102" y="1796">Normal</text><text x="1202" y="1796">Drought</text>
</g>
<text transform="translate(1006,1673) rotate(-90)" text-anchor="middle" font-size="17" font-weight="bold" textLength="150" lengthAdjust="spacingAndGlyphs">CAT (umol/g.min)</text>

</svg>
</body></html>
